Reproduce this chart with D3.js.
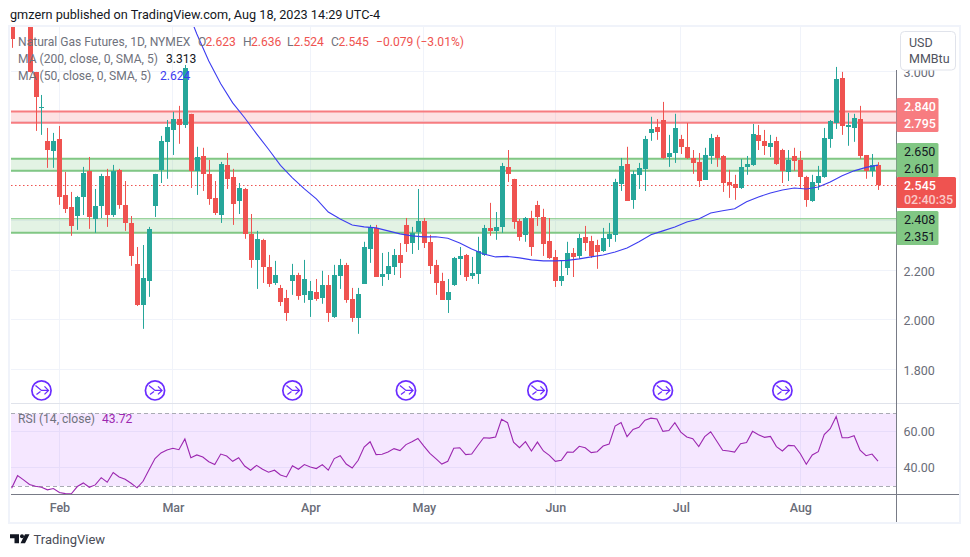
<!DOCTYPE html>
<html lang="en">
  <head>
    <meta charset="UTF-8"/>
    <title>Natural Gas Futures</title>
    <script src="https://d3js.org/d3.v7.min.js"></script>
    <style>
      body { margin: 0; background: #fff; }
      text { font-family: Roboto, sans-serif; font-size: 12.1px; }
      .axis text { fill: #6a6d78; font-size: 12.5px; }
      .axis line, .axis path { display: none; }
    </style>
  </head>
  <body>
    <script type="text/javascript">

      // daily candles. 1 and 2 sit above the visible range
      const opens = [3.190,3.260,3.280,3.220,3.000,2.853,2.722,2.681,2.730,2.504,
        2.456,2.419,2.496,2.601,2.407,2.460,2.581,2.423,2.605,2.464,
        2.391,2.226,2.060,2.157,2.460,2.605,2.718,2.766,2.810,2.786,
        2.831,2.601,2.661,2.589,2.492,2.423,2.625,2.577,2.480,2.528,
        2.347,2.242,2.323,2.214,2.149,2.129,2.089,2.157,2.181,2.101,
        2.081,2.113,2.089,2.141,2.012,2.177,2.222,2.085,2.008,2.145,
        2.286,2.371,2.173,2.185,2.214,2.262,2.383,2.310,2.355,2.399,
        2.315,2.222,2.157,2.081,2.141,2.246,2.262,2.177,2.185,2.262,
        2.371,2.359,2.375,2.617,2.569,2.399,2.343,2.411,2.464,2.415,
        2.319,2.254,2.157,2.210,2.270,2.258,2.335,2.319,2.302,2.278,
        2.327,2.343,2.548,2.629,2.484,2.585,2.609,2.754,2.778,2.806,
        2.657,2.673,2.730,2.698,2.653,2.637,2.565,2.661,2.738,2.661,
        2.556,2.548,2.532,2.617,2.625,2.746,2.722,2.698,2.722,2.685,
        2.597,2.661,2.645,2.577,2.480,2.552,2.577,2.730,2.794,2.976,
        2.778,2.774,2.810,2.665,2.601,2.623]
      const highs = [3.220,3.300,3.310,3.250,3.000,2.907,2.774,2.754,2.782,2.597,
        2.516,2.500,2.617,2.657,2.528,2.589,2.609,2.625,2.609,2.560,
        2.419,2.294,2.302,2.375,2.589,2.742,2.806,2.839,2.863,3.028,
        2.831,2.698,2.694,2.645,2.560,2.637,2.673,2.609,2.552,2.532,
        2.427,2.359,2.327,2.262,2.238,2.141,2.121,2.226,2.190,2.242,
        2.157,2.165,2.198,2.181,2.222,2.246,2.230,2.129,2.129,2.315,
        2.383,2.383,2.270,2.274,2.286,2.310,2.411,2.375,2.528,2.411,
        2.343,2.242,2.190,2.165,2.254,2.294,2.266,2.254,2.335,2.383,
        2.472,2.435,2.633,2.685,2.569,2.407,2.415,2.440,2.480,2.448,
        2.411,2.282,2.238,2.315,2.290,2.347,2.379,2.339,2.323,2.371,
        2.391,2.569,2.653,2.698,2.601,2.633,2.742,2.819,2.810,2.879,
        2.746,2.831,2.746,2.794,2.685,2.673,2.694,2.750,2.746,2.665,
        2.605,2.585,2.649,2.661,2.790,2.786,2.766,2.746,2.738,2.690,
        2.685,2.694,2.681,2.581,2.585,2.621,2.774,2.806,3.020,3.000,
        2.835,2.831,2.863,2.665,2.669,2.636]
      const lows = [3.097,3.200,3.200,2.998,2.762,2.746,2.613,2.613,2.464,2.431,
        2.339,2.363,2.423,2.367,2.351,2.411,2.375,2.415,2.448,2.359,
        2.218,2.056,1.964,2.093,2.415,2.552,2.569,2.665,2.710,2.774,
        2.532,2.504,2.520,2.464,2.423,2.391,2.528,2.383,2.427,2.327,
        2.210,2.125,2.149,2.133,2.141,2.056,1.996,2.101,2.081,2.069,
        2.012,2.077,2.065,1.992,2.008,2.125,2.069,1.992,1.944,2.145,
        2.230,2.173,2.137,2.161,2.181,2.169,2.274,2.266,2.282,2.290,
        2.185,2.101,2.081,2.028,2.137,2.181,2.157,2.165,2.145,2.258,
        2.339,2.323,2.351,2.556,2.367,2.319,2.315,2.258,2.379,2.258,
        2.246,2.133,2.137,2.181,2.173,2.246,2.278,2.250,2.206,2.274,
        2.294,2.315,2.520,2.480,2.448,2.528,2.520,2.722,2.726,2.649,
        2.617,2.633,2.669,2.649,2.589,2.536,2.565,2.629,2.617,2.516,
        2.492,2.484,2.528,2.585,2.621,2.685,2.665,2.657,2.625,2.552,
        2.560,2.601,2.532,2.456,2.476,2.524,2.573,2.694,2.770,2.746,
        2.702,2.718,2.649,2.569,2.577,2.524]
      const closes = [3.133,3.220,3.240,3.000,2.899,2.857,2.685,2.722,2.496,2.448,
        2.379,2.496,2.593,2.415,2.460,2.581,2.423,2.601,2.464,2.391,
        2.258,2.060,2.169,2.367,2.589,2.722,2.778,2.810,2.786,3.016,
        2.601,2.657,2.589,2.488,2.431,2.629,2.569,2.468,2.532,2.347,
        2.242,2.327,2.214,2.145,2.181,2.073,2.028,2.181,2.097,2.165,
        2.117,2.085,2.141,2.028,2.181,2.222,2.081,2.008,2.105,2.294,
        2.375,2.173,2.185,2.218,2.262,2.230,2.306,2.351,2.399,2.310,
        2.218,2.149,2.081,2.113,2.250,2.258,2.173,2.190,2.278,2.371,
        2.359,2.375,2.621,2.589,2.395,2.335,2.411,2.294,2.415,2.306,
        2.250,2.157,2.177,2.270,2.254,2.331,2.310,2.258,2.274,2.331,
        2.347,2.556,2.621,2.480,2.589,2.613,2.730,2.770,2.758,2.653,
        2.673,2.774,2.698,2.653,2.633,2.560,2.665,2.734,2.653,2.552,
        2.544,2.532,2.617,2.629,2.750,2.722,2.702,2.714,2.629,2.601,
        2.645,2.641,2.577,2.484,2.556,2.581,2.734,2.802,2.972,2.782,
        2.786,2.815,2.661,2.601,2.625,2.545]

      // MA 50, read every second candle
      const maIdx = d3.range(29, 146, 2)
      const ma50 = [3.274,3.153,3.044,2.952,2.875,2.815,2.750,2.688,2.623,2.573,
        2.528,2.488,2.435,2.407,2.383,2.375,2.371,2.359,2.347,2.339,
        2.335,2.335,2.329,2.310,2.286,2.266,2.254,2.256,2.250,2.242,
        2.238,2.238,2.240,2.246,2.254,2.262,2.274,2.290,2.315,2.343,
        2.359,2.375,2.395,2.407,2.431,2.440,2.448,2.476,2.496,2.512,
        2.524,2.532,2.528,2.536,2.556,2.581,2.601,2.615,2.624]

      const rsi = [28.8,35.7,33.4,30.8,29.9,29.3,27.9,28.6,26.4,25.8,
        25.7,29.7,31.7,29.3,30.6,34.6,32.1,37.4,35.0,33.7,
        31.5,29.0,32.6,38.9,45.1,48.2,49.8,50.8,50.0,55.9,
        45.6,47.1,46.0,43.4,41.8,47.6,46.5,43.6,45.6,41.0,
        38.7,41.4,39.2,37.6,38.7,36.1,35.0,41.2,39.2,41.8,
        40.5,39.6,41.8,38.7,45.1,46.7,42.1,39.9,44.2,51.5,
        54.4,47.3,47.5,48.7,50.6,49.5,52.8,54.4,56.2,52.0,
        48.0,45.1,42.1,43.6,50.8,51.1,47.3,47.6,52.2,56.6,
        56.4,57.0,66.7,64.9,54.2,51.1,54.4,49.3,54.2,49.3,
        46.9,43.6,44.2,48.7,48.6,51.9,51.1,48.4,48.9,52.0,
        53.1,63.0,65.0,57.2,61.2,62.3,66.3,67.4,66.9,60.1,
        60.6,64.9,59.7,57.0,56.1,51.7,57.2,59.9,54.8,49.7,
        49.3,48.7,53.3,53.9,60.1,58.3,56.8,57.3,51.7,49.3,
        52.4,52.2,47.8,42.0,47.1,48.9,58.3,61.6,68.3,56.6,
        56.6,57.7,49.7,46.7,47.6,43.72]

      const monthIdx = [8, 27, 50, 69, 91, 112, 132]
      const monthLabels = ["Feb", "Mar", "Apr", "May", "Jun", "Jul", "Aug"]
      const gridPrices = [1.8, 2.0, 2.2, 2.4, 2.6, 2.8, 3.0]
      // 2.400, 2.600 and 2.800 are covered by the zone tags
      const priceLabels = [1.8, 2.0, 2.2, 3.0]
      const rsiTicks = [40, 60]
      const rsiBand = [30, 70]
      const eventIdx = [5, 24, 47, 66, 88, 109, 129]

      // support / resistance zones
      const zoneHigh = [2.840, 2.650, 2.408]
      const zoneLow = [2.795, 2.601, 2.351]
      const zoneColor = ["#f77c80", "#81c784", "#81c784"]
      const lastPrice = 2.545
      const countdown = "02:40:35"

      const up = "#26a69a", down = "#ef5350", gridColor = "#f0f3fa"
      const paneLeft = 11, axisX = 896.5, paneRight = 959, paneTop = 27, paneBottom = 403.5, rsiBottom = 494, frameBottom = 521.5

      const svg = d3.select("body").append("svg")
          .attr("width", 970)
          .attr("height", 557)
          .style("display", "block")

      const x = d3.scaleLinear().domain([0, 145]).range([11.6, 878])
      const y = d3.scaleLinear().domain([1.665, 3.181]).range([403, 27])
      const yRsi = d3.scaleLinear().domain([30, 70]).range([486, 413.4])

      svg.append("clipPath").attr("id", "pane")
        .append("rect").attr("x", paneLeft).attr("y", paneTop).attr("width", axisX - paneLeft).attr("height", paneBottom - paneTop)

      // grid
      const grid = svg.append("g").attr("stroke", gridColor).attr("shape-rendering", "crispEdges")
      grid.append("g").selectAll("line").data(monthIdx).join("line")
          .attr("x1", d => x(d)).attr("x2", d => x(d)).attr("y1", paneTop).attr("y2", rsiBottom)
      grid.append("g").selectAll("line").data(gridPrices).join("line")
          .attr("x1", paneLeft).attr("x2", axisX).attr("y1", d => y(d)).attr("y2", d => y(d))
      grid.append("g").selectAll("line").data(rsiTicks).join("line")
          .attr("x1", paneLeft).attr("x2", axisX).attr("y1", d => yRsi(d)).attr("y2", d => yRsi(d))

      // zones
      const zones = svg.append("g").selectAll("g").data(zoneHigh).join("g")
      zones.append("rect")
          .attr("x", paneLeft).attr("width", axisX - paneLeft)
          .attr("y", d => y(d)).attr("height", (d, i) => y(zoneLow[i]) - y(d))
          .attr("fill", (d, i) => zoneColor[i]).attr("fill-opacity", 0.22)
      zones.append("line")
          .attr("x1", paneLeft).attr("x2", axisX).attr("y1", d => y(d)).attr("y2", d => y(d))
          .attr("stroke", (d, i) => zoneColor[i]).attr("stroke-width", (d, i) => i == 2 ? 1 : 2)
      zones.append("line")
          .attr("x1", paneLeft).attr("x2", axisX).attr("y1", (d, i) => y(zoneLow[i])).attr("y2", (d, i) => y(zoneLow[i]))
          .attr("stroke", (d, i) => zoneColor[i]).attr("stroke-width", 2)

      // last price line
      svg.append("line")
          .attr("x1", paneLeft).attr("x2", axisX).attr("y1", Math.round(y(lastPrice)) + 0.5).attr("y2", Math.round(y(lastPrice)) + 0.5)
          .attr("stroke", down).attr("stroke-dasharray", "1.5 2.5")

      // candles
      const candles = svg.append("g").attr("clip-path", "url(#pane)")
        .selectAll("g").data(opens).join("g")
          .attr("fill", (d, i) => closes[i] >= d ? up : down)
          .attr("stroke", (d, i) => closes[i] >= d ? up : down)
      candles.append("line")
          .attr("x1", (d, i) => Math.round(x(i)) + 0.5).attr("x2", (d, i) => Math.round(x(i)) + 0.5)
          .attr("y1", (d, i) => y(highs[i])).attr("y2", (d, i) => y(lows[i]))
      candles.append("rect")
          .attr("stroke", "none")
          .attr("shape-rendering", "crispEdges")
          .attr("x", (d, i) => Math.round(x(i)) - 2).attr("width", 5)
          .attr("y", (d, i) => y(Math.max(d, closes[i])))
          .attr("height", (d, i) => Math.max(1, Math.abs(y(d) - y(closes[i]))))

      // MA 50
      const maLine = d3.line().x((d, i) => x(maIdx[i])).y(d => y(d))
      svg.append("path").datum(ma50)
          .attr("clip-path", "url(#pane)")
          .attr("fill", "none").attr("stroke", "#3d3df0").attr("stroke-width", 1.1)
          .attr("d", maLine)

      // split markers
      const events = svg.append("g").selectAll("g").data(eventIdx).join("g")
          .attr("transform", d => `translate(${x(d)},390.4)`)
          .attr("fill", "none").attr("stroke", "#6a2cff")
      events.append("circle").attr("r", 9.6).attr("stroke-width", 1.7).attr("fill", "#fff")
      events.append("path").attr("stroke-width", 1.3)
          .attr("d", "M-6,-5L0,0H7M3,-4L7,0L3,4M-5,4L-1,1")

      // RSI pane
      svg.append("rect")
          .attr("x", paneLeft).attr("width", axisX - paneLeft)
          .attr("y", yRsi(rsiBand[1])).attr("height", yRsi(rsiBand[0]) - yRsi(rsiBand[1]))
          .attr("fill", "#a020ff").attr("fill-opacity", 0.11)
      svg.append("g").selectAll("line").data(rsiBand).join("line")
          .attr("x1", paneLeft).attr("x2", axisX).attr("y1", d => yRsi(d)).attr("y2", d => yRsi(d))
          .attr("stroke", "#a9abb3").attr("stroke-dasharray", "4 3")
          .attr("shape-rendering", "crispEdges")
      svg.append("path").datum(rsi)
          .attr("fill", "none").attr("stroke", "#9c27b0").attr("stroke-width", 1.1)
          .attr("d", d3.line().x((d, i) => x(i)).y(d => yRsi(d)))

      // frame
      const frame = svg.append("g").attr("shape-rendering", "crispEdges")
      frame.append("rect").attr("x", 9).attr("y", 26).attr("width", 951).attr("height", 496.5)
          .attr("fill", "none").attr("stroke", gridColor).attr("stroke-width", 2)
      frame.append("line").attr("x1", paneLeft).attr("x2", paneRight).attr("y1", paneBottom).attr("y2", paneBottom).attr("stroke", "#e0e3eb")
      frame.append("line").attr("x1", paneLeft).attr("x2", paneRight).attr("y1", rsiBottom).attr("y2", rsiBottom).attr("stroke", "#787b86")
      frame.append("line").attr("x1", axisX).attr("x2", axisX).attr("y1", 70).attr("y2", frameBottom).attr("stroke", "#787b86")

      // axes
      svg.append("g").attr("class", "axis")
          .attr("transform", `translate(${axisX},1)`)
          .call(d3.axisRight(y).tickValues(priceLabels).tickFormat(d3.format(".3f")).tickSize(0).tickPadding(7))
      svg.append("g").attr("class", "axis")
          .attr("transform", `translate(${axisX},0)`)
          .call(d3.axisRight(yRsi).tickValues(rsiTicks).tickFormat(d3.format(".2f")).tickSize(0).tickPadding(7))
      svg.append("g").attr("class", "axis")
          .attr("transform", `translate(0,${rsiBottom + 6})`)
          .call(d3.axisBottom(x).tickValues(monthIdx).tickFormat((d, i) => monthLabels[i]).tickSize(0).tickPadding(3))
          .selectAll("text").attr("font-weight", 500)

      // currency box, it covers the top of the 3.000 label
      const usd = svg.append("g")
      usd.append("rect").attr("x", 900.5).attr("y", 31.5).attr("width", 55).attr("height", 38.5).attr("rx", 4)
          .attr("fill", "#fff").attr("stroke", "#e0e3eb")
      usd.append("text").attr("x", 909).attr("y", 47).attr("fill", "#50535e").style("font-size", "12.5px").text("USD")
      usd.append("text").attr("x", 909).attr("y", 63).attr("fill", "#50535e").style("font-size", "12.5px").text("MMBtu")

      // price tags
      const tag = (color, y0, h, w) => svg.append("rect")
          .attr("x", axisX).attr("y", y0).attr("width", w).attr("height", h).attr("rx", 1.5).attr("fill", color)
      const tagText = (t, yc, color, opacity) => svg.append("text")
          .attr("x", 904).attr("y", yc).attr("dy", "0.35em").attr("fill", color)
          .attr("fill-opacity", opacity || 1).attr("font-weight", color == "#fff" ? 500 : 400)
          .style("font-size", "12.5px").text(t)
      tag(zoneColor[0], 98, 34, 42)
      tag(zoneColor[1], 143, 34, 42)
      tag(zoneColor[2], 211, 34, 42)
      tag(down, 177, 31, 59.5)
      const f3 = d3.format(".3f")
      tagText(f3(zoneHigh[0]), 106.7, "#fff")
      tagText(f3(zoneLow[0]), 123.7, "#fff")
      tagText(f3(zoneHigh[1]), 151.7, "#131722")
      tagText(f3(zoneLow[1]), 168.7, "#131722")
      tagText(f3(lastPrice), 185.7, "#fff")
      tagText(countdown, 200, "#fff", 0.7)
      tagText(f3(zoneHigh[2]), 219.3, "#131722")
      tagText(f3(zoneLow[2]), 236.3, "#131722")

      // legends
      const label = (t, px, py, color) => svg.append("text").attr("x", px).attr("y", py).attr("fill", color).text(t)
      const grey = "#6f727d"
      label("Natural Gas Futures, 1D, NYMEX", 18, 46, grey)
      label("O", 198, 46, grey); label(f3(opens[145]), 205.5, 46, down)
      label("H", 243, 46, grey); label(f3(highs[145]), 251, 46, down)
      label("L", 287, 46, grey); label(f3(lows[145]), 293.5, 46, down)
      label("C", 331, 46, grey); label(f3(closes[145]), 338.5, 46, down)
      label("\u22120.079 (\u22123.01%)", 376, 46, down)
      label("MA (200, close, 0, SMA, 5)", 18, 63, grey); label("3.313", 166, 63, "#131722")
      label("MA (50, close, 0, SMA, 5)", 18, 80, grey); label("2.624", 160, 80, "#3d3df0")
      label("RSI (14, close)", 18, 423, grey); label("43.72", 102, 423, "#9c27b0")

      // top and bottom captions
      label("gmzern published on TradingView.com, Aug 18, 2023 14:29 UTC-4", 10, 19, "#131722").style("font-size", "12.7px")
      label("TradingView", 33.5, 544, "#4a4d57").style("font-size", "13px")
      svg.append("path").attr("fill", "#131722")
          .attr("d", "M10,534.3H19V543.3H14.5V538.3H10ZM25,534.3H29.5L25,543.3H20.5Z")
      svg.append("circle").attr("cx", 22).attr("cy", 536.3).attr("r", 2).attr("fill", "#131722")

    </script>
  </body>
</html>
